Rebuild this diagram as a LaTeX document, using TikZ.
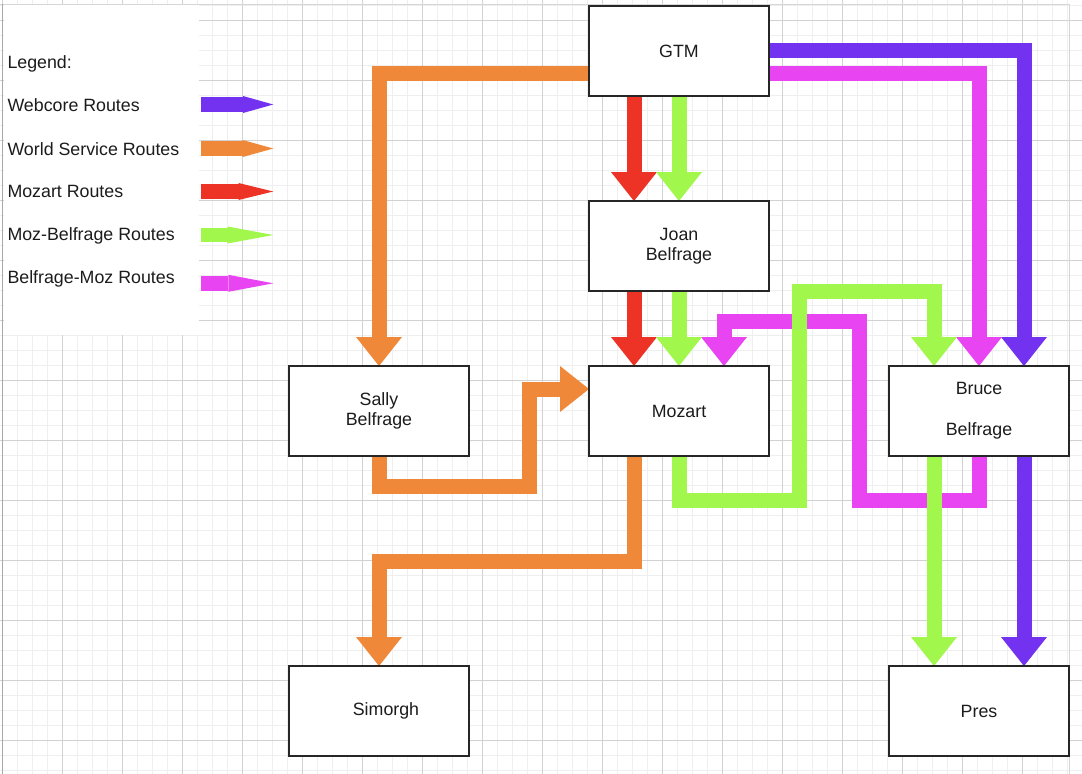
\documentclass[tikz,border=0pt]{standalone}
\usepackage{fontspec}
\setmainfont{Liberation Sans}
\usetikzlibrary{calc}
\pgfdeclarelayer{gridlayer}
\pgfdeclarelayer{routelayer}
\pgfsetlayers{gridlayer,routelayer,main}
\definecolor{cPurple}{HTML}{7332F0}
\definecolor{cOrange}{HTML}{F0883A}
\definecolor{cRed}{HTML}{EC3325}
\definecolor{cGreen}{HTML}{A1F74B}
\definecolor{cMagenta}{HTML}{E944F1}
\definecolor{gridMinor}{HTML}{EFEFEF}
\definecolor{gridMajor}{HTML}{D2D2D2}
\definecolor{pageLine}{HTML}{D6D6D6}
\definecolor{boxLine}{HTML}{262626}
\definecolor{txtCol}{HTML}{1C1C1C}
\newcommand\lblfont{\fontsize{17.8}{20.3}\selectfont}
% down-pointing head: tip at #2
\newcommand\HeadDown[2]{\fill[#1] (#2) -- ++(-23,-29) -- ++(46,0) -- cycle;}
% right-pointing head: tip at #2
\newcommand\HeadRight[2]{\fill[#1] (#2) -- ++(-29,-23) -- ++(0,46) -- cycle;}
% legend arrow: colour, centre y, head start x
\newcommand\LegArrow[3]{%
  \fill[#1] (200.5,#2-7.3) rectangle (#3,#2+7.3);
  \fill[#1] (#3,#2-8.5) -- (273.3,#2) -- (#3,#2+8.5) -- cycle;}
\begin{document}
\begin{tikzpicture}[x=1pt,y=-1pt,
  box/.style={draw=boxLine, line width=1.5pt, fill=white, minimum width=180pt,
    minimum height=90pt, inner sep=0pt, outer sep=0pt, font=\lblfont,
    text=txtCol, align=center},
  legtext/.style={anchor=base west, inner sep=0pt, font=\lblfont, text=txtCol},
  route/.style={line width=15pt, line cap=butt, line join=miter}]
\useasboundingbox (0,0) rectangle (1082,774);

% ---------- background grid ----------
\begin{pgfonlayer}{gridlayer}
\fill[white] (0,0) rectangle (1082,774);
\foreach \i in {0,...,71} \draw[gridMinor, line width=1.2pt] ({2.7+15*\i},0) -- ({2.7+15*\i},774);
\foreach \j in {0,...,51} \draw[gridMinor, line width=1.2pt] (0,{5.7+15*\j}) -- (1082,{5.7+15*\j});
\foreach \i in {0,...,17} \draw[gridMajor, line width=0.9pt] ({2.7+60*\i},0) -- ({2.7+60*\i},774);
\foreach \j in {0,...,12} \draw[gridMajor, line width=0.9pt] (0,{20.7+60*\j}) -- (1082,{20.7+60*\j});
\draw[pageLine, line width=1.6pt] (0,4.3) -- (1069.3,4.3) -- (1069.3,774);
% legend panel
\fill[white] (3.6,5.2) rectangle (199.3,335);
\draw[gridMajor!80!black, line width=1pt] (2.7,4.3) -- (2.7,774);
\end{pgfonlayer}

% ---------- legend ----------
\node[legtext] (legT) at (7.3,68.3) {Legend:};
\node[legtext] (legW) at (7.3,111.7) {Webcore Routes};
\node[legtext] (legO) at (7.3,155.3) {World Service Routes};
\node[legtext] (legR) at (7.3,197.7) {Mozart Routes};
\node[legtext] (legG) at (7.3,240.7) {Moz-Belfrage Routes};
\node[legtext] (legM) at (7.3,283.7) {Belfrage-Moz Routes};
\LegArrow{cPurple}{104.5}{243}
\LegArrow{cOrange}{148.5}{242.7}
\LegArrow{cRed}{191.5}{238.5}
\LegArrow{cGreen}{235}{227.5}
\LegArrow{cMagenta}{283.3}{228.3}

% ---------- nodes ----------
\node[box] (gtm) at (679,51) {GTM};
\node[box] (joan) at (679,246) {Joan\\Belfrage};
\node[box] (mozart) at (679,411) {Mozart};
\node[box] (sally) at (379,411) {Sally\\Belfrage};
\node[box] (bruce) at (979,411) {Bruce\\[20.3pt]Belfrage};
\node[box] (simorgh) at (379,711) {\hspace*{14pt}Simorgh};
\node[box] (pres) at (979,711) {Pres};

% ---------- routes ----------
\begin{pgfonlayer}{routelayer}
% World Service (orange)
\draw[route, cOrange] ($(gtm.west)+(0,22)$) -| ($(sally.north)+(0,-28)$);
\HeadDown{cOrange}{sally.north}
\draw[route, cOrange] (sally.south) -- ($(sally.south)+(0,30)$)
  -| ($(mozart.west)+(-59.5,-22)$) -- ($(mozart.west)+(-28,-22)$);
\HeadRight{cOrange}{$(mozart.west)+(0,-22)$}
\draw[route, cOrange] ($(mozart.south)+(-45,0)$) -- ($(mozart.south)+(-45,105)$)
  -| ($(simorgh.north)+(0,-28)$);
\HeadDown{cOrange}{simorgh.north}
% Mozart (red)
\draw[route, cRed] ($(gtm.south)+(-45,0)$) -- ($(joan.north)+(-45,-28)$);
\HeadDown{cRed}{$(joan.north)+(-45,0)$}
\draw[route, cRed] ($(joan.south)+(-45,0)$) -- ($(mozart.north)+(-45,-28)$);
\HeadDown{cRed}{$(mozart.north)+(-45,0)$}
% Webcore (purple)
\draw[route, cPurple] ($(gtm.east)+(0,-0.5)$) -| ($(bruce.north)+(45,-28)$);
\HeadDown{cPurple}{$(bruce.north)+(45,0)$}
\draw[route, cPurple] ($(bruce.south)+(45,0)$) -- ($(pres.north)+(45,-28)$);
\HeadDown{cPurple}{$(pres.north)+(45,0)$}
% Belfrage-Moz (magenta)
\draw[route, cMagenta] ($(gtm.east)+(0,22)$) -| ($(bruce.north)+(0,-28)$);
\HeadDown{cMagenta}{bruce.north}
\draw[route, cMagenta] (bruce.south) -- ($(bruce.south)+(0,44.5)$)
  -- ($(bruce.south)+(-120,44.5)$) -- ($(mozart.north)+(180,-45)$)
  -- ($(mozart.north)+(45,-45)$) -- ($(mozart.north)+(45,-28)$);
\HeadDown{cMagenta}{$(mozart.north)+(45,0)$}
% Moz-Belfrage (green)
\draw[route, cGreen] (gtm.south) -- ($(joan.north)+(0,-28)$);
\HeadDown{cGreen}{joan.north}
\draw[route, cGreen] (joan.south) -- ($(mozart.north)+(0,-28)$);
\HeadDown{cGreen}{mozart.north}
\draw[route, cGreen] (mozart.south) -- ($(mozart.south)+(0,44.5)$)
  -- ($(mozart.south)+(120.5,44.5)$) -- ($(mozart.north)+(120.5,-75)$)
  -- ($(bruce.north)+(-45,-75)$) -- ($(bruce.north)+(-45,-28)$);
\HeadDown{cGreen}{$(bruce.north)+(-45,0)$}
\draw[route, cGreen] ($(bruce.south)+(-45,0)$) -- ($(pres.north)+(-45,-28)$);
\HeadDown{cGreen}{$(pres.north)+(-45,0)$}
\end{pgfonlayer}
\end{tikzpicture}
\end{document}
